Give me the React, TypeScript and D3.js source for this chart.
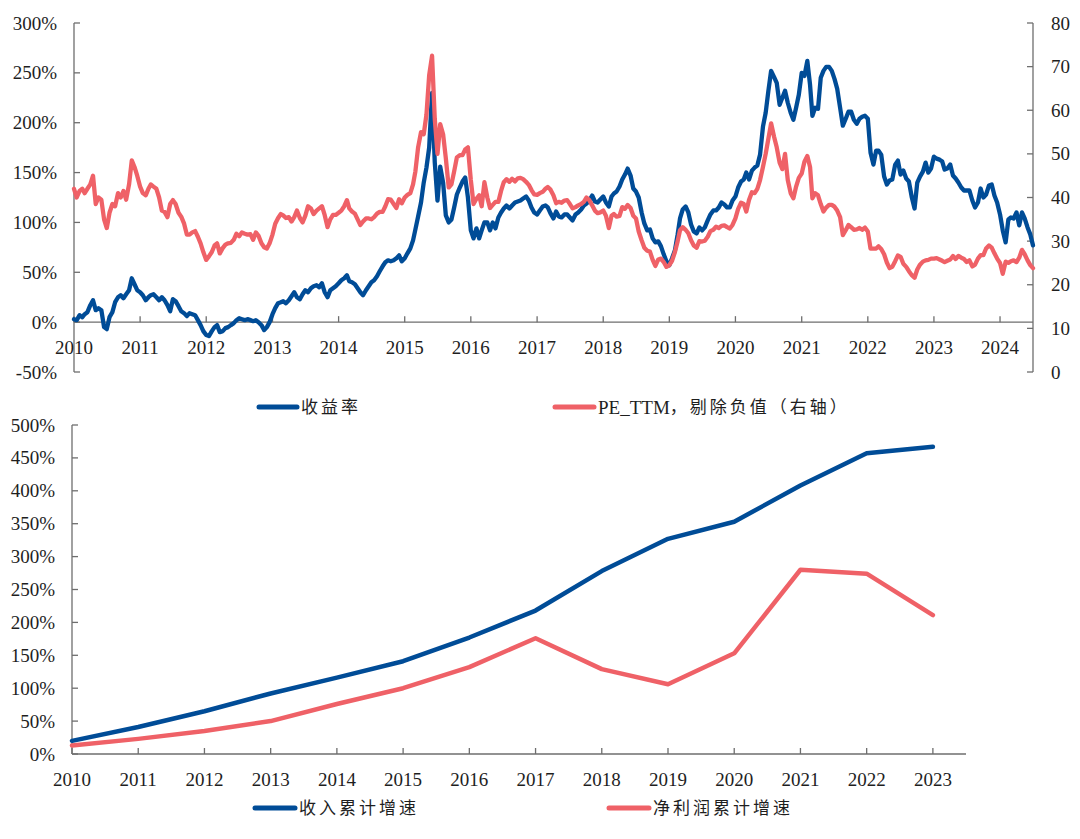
import React from "react";
import * as d3 from "d3";

// ---------- Top chart data (semi-monthly samples, 1st & 16th of each month, from 2010-01-01) ----------
const returnRate: number[] = [
  // 2010
  3, 2, 7, 5, 8, 10, 17, 22, 12, 14, 12, -5, -7, 5, 10, 20, 25, 27, 24, 28, 32, 44, 38, 32,
  // 2011
  30, 27, 22, 25, 27, 28, 25, 22, 25, 22, 17, 11, 23, 21, 16, 11, 9, 6, 9, 8, 7, 2, -3, -9,
  // 2012
  -13, -14, -9, -5, -3, -10, -9, -6, -5, -3, -1, 2, 4, 3, 2, 3, 2, 1, 2, 0, -3, -8, -5, 0,
  // 2013
  8, 14, 19, 20, 21, 19, 22, 26, 30, 25, 23, 28, 32, 30, 34, 36, 37, 35, 39, 30, 25, 32, 34, 36,
  // 2014
  39, 42, 44, 47, 41, 40, 38, 34, 30, 27, 32, 36, 40, 42, 46, 51, 56, 60, 62, 61, 62, 64, 67, 61,
  // 2015
  64, 69, 74, 82, 93, 106, 120, 140, 155, 175, 230, 160, 122, 156, 140, 107, 100, 103, 115, 128, 135, 141, 145, 125,
  // 2016
  92, 84, 94, 84, 92, 100, 100, 92, 100, 94, 105, 110, 114, 117, 114, 117, 120, 121, 122, 124, 126, 122, 115, 110,
  // 2017
  108, 112, 116, 117, 115, 109, 104, 111, 106, 105, 108, 108, 105, 102, 108, 110, 113, 117, 119, 122, 127, 121, 120, 123,
  // 2018
  126, 120, 116, 126, 129, 131, 136, 143, 148, 154, 147, 134, 131, 125, 110, 99, 92, 93, 84, 80, 81, 76, 68, 61,
  // 2019
  57, 64, 72, 88, 104, 113, 116, 110, 98, 91, 89, 95, 92, 95, 102, 108, 112, 112, 115, 120, 118, 115, 115, 122,
  // 2020
  126, 135, 141, 143, 150, 143, 152, 155, 157, 168, 196, 210, 232, 252, 246, 240, 218, 225, 232, 220, 210, 203, 215, 228,
  // 2021
  250, 247, 262, 238, 207, 215, 214, 245, 252, 256, 256, 252, 244, 234, 215, 197, 204, 211, 211, 203, 199, 204, 206, 207,
  // 2022
  204, 170, 158, 172, 172, 168, 146, 138, 142, 143, 158, 162, 148, 152, 144, 141, 125, 114, 140, 146, 151, 160, 150, 154,
  // 2023
  166, 164, 163, 161, 153, 154, 158, 147, 144, 140, 135, 132, 132, 132, 122, 115, 120, 134, 125, 128, 137, 138, 127, 120,
  // 2024
  108, 92, 80, 103, 105, 104, 110, 97, 110, 104, 95, 88, 77,
];

const peTTM: number[] = [
  // 2010
  42, 40, 41.5, 42, 41, 42, 43, 45, 38.5, 40, 39.5, 35, 33, 36.5, 38.5, 38, 41, 40, 41.5, 39.5, 43, 48.5, 47, 45,
  // 2011
  42.5, 41, 40.5, 42, 43, 42.5, 42, 40, 37, 36.7, 35.5, 38.5, 39.4, 38.5, 36.5, 35.6, 34, 31.5, 31.5, 32, 32.3, 31, 29.5, 27.5,
  // 2012
  25.7, 26.5, 27.5, 29, 29.5, 27.2, 28.4, 29.2, 29.5, 29.6, 30.3, 31.7, 31.1, 32, 31.7, 31.5, 31.6, 30.3, 32, 31.2, 29.5, 28.6, 28.3, 29.5,
  // 2013
  31.5, 34, 35.3, 36.2, 35.9, 35.3, 35.5, 34.5, 35.5, 37, 35.3, 34.3, 35.8, 38, 37.5, 36.2, 37, 37.5, 38, 36, 33.2, 35, 36, 36,
  // 2014
  36.5, 37, 38, 39.4, 37.5, 36.8, 36.3, 35, 33.7, 34.5, 35.2, 35.2, 35, 35.5, 36.3, 36.7, 36.7, 38, 39.6, 39.5, 38.5, 37.6, 39.6, 38.7,
  // 2015
  40, 40.6, 41, 43, 46, 51.5, 55, 54.5, 59, 68, 72.5, 58, 50, 56.8, 54.5, 49, 42.3, 43, 46, 49.2, 49.7, 49.7, 51, 51.5,
  // 2016
  44, 38.5, 39.7, 40.5, 38, 43.5, 40, 37.6, 38.3, 39, 39, 41.5, 43.5, 44.2, 43.6, 44.3, 43.7, 44.4, 44.5, 44.2, 43.6, 42.9, 41.7, 40.7,
  // 2017
  40.6, 41, 41.3, 42, 42.4, 41.8, 40.5, 38.7, 39, 38.8, 39.3, 39.4, 38.5, 37.5, 37.8, 38.2, 38.5, 39, 40, 39.4, 38.2, 37, 36.4, 36.6,
  // 2018
  37, 35.8, 33, 35.8, 36.2, 35.6, 35.8, 37.8, 37.4, 38.3, 37.6, 35.8, 35.2, 32.2, 30.2, 28.5, 27.8, 27.6, 25.7, 24.3, 25.8, 26, 25.2, 24.1,
  // 2019
  24.5, 25.5, 27.5, 30, 32.5, 33.2, 32.6, 31.8, 30.2, 29, 28.5, 30, 29.9, 30.1, 31, 32.3, 32.6, 33.3, 33, 33.5, 33.6, 33.2, 32.9, 33.7,
  // 2020
  35.2, 37.4, 38.8, 38.5, 36.8, 39.4, 41.2, 41, 42, 44, 47, 50, 53.5, 57, 54, 51.5, 48, 46.5, 50, 44, 41, 39.8, 42.5, 44.5,
  // 2021
  45.5, 48.2, 49.5, 47, 39.8, 41, 40.5, 38.5, 36.8, 37.7, 38.3, 38.3, 37.9, 37, 35.5, 31.4, 32.5, 33.7, 33.2, 32.6, 32.7, 33, 32.6, 33.1,
  // 2022
  32.2, 28.3, 28.3, 28.3, 28.8, 28.2, 27, 25.1, 23.8, 24.1, 25.4, 26.7, 26.4, 24.8, 24.1, 23.1, 22.2, 21.6, 23.5, 24.6, 25.3, 25.6, 25.7, 26,
  // 2023
  26, 26.1, 25.8, 25.5, 25.2, 25.5, 25.8, 26.6, 25.9, 26.6, 26.2, 25.9, 25.2, 25.6, 24.2, 24.6, 26, 26.8, 26.8, 28.3, 29, 28.5, 27.2, 26,
  // 2024
  25, 22.5, 25.3, 25, 25.4, 25.6, 25.2, 26.2, 28, 27, 25.6, 24.5, 23.8,
];

const topYears = [2010, 2011, 2012, 2013, 2014, 2015, 2016, 2017, 2018, 2019, 2020, 2021, 2022, 2023, 2024];
const leftTicks = [-50, 0, 50, 100, 150, 200, 250, 300];
const rightTicks = [0, 10, 20, 30, 40, 50, 60, 70, 80];

// ---------- Bottom chart data ----------
const years = [2010, 2011, 2012, 2013, 2014, 2015, 2016, 2017, 2018, 2019, 2020, 2021, 2022, 2023];
const revenueGrowth = [20, 41, 65, 92, 116, 141, 177, 218, 278, 327, 353, 408, 457, 467];
const profitGrowth = [13, 23, 35, 50, 76, 100, 132, 176, 129, 106, 153, 280, 274, 211];
const bottomTicks = [0, 50, 100, 150, 200, 250, 300, 350, 400, 450, 500];

const BLUE = "#004C97";
const RED = "#EF6167";
const AXIS = "#6e6e6e";
const TXT = "#1e1e1e";
const LATIN = "'Liberation Serif', 'Times New Roman', serif";
const MIXED = "'Liberation Serif', 'Noto Sans CJK SC', serif";

function sampleDate(i: number): Date {
  const y = 2010 + Math.floor(i / 24);
  const m = Math.floor((i % 24) / 2);
  return new Date(y, m, i % 2 ? 16 : 1);
}

export default function App() {
  // ---- top scales ----
  const xT = d3.scaleTime().domain([new Date(2010, 0, 1), new Date(2024, 6, 1)]).range([74, 1033]);
  const yL = d3.scaleLinear().domain([-50, 300]).range([372, 23]);
  const yR = d3.scaleLinear().domain([0, 80]).range([372, 23]);
  const y0 = yL(0);

  const lineRet = d3
    .line<number>()
    .x((_, i) => xT(sampleDate(i)))
    .y((d) => yL(d));
  const linePE = d3
    .line<number>()
    .x((_, i) => xT(sampleDate(i)))
    .y((d) => yR(d));

  // ---- bottom scales ----
  const xB = d3.scaleLinear().domain([2010, 2023.5]).range([72, 966]);
  const yB = d3.scaleLinear().domain([0, 500]).range([754, 425]);
  const lineB = d3
    .line<number>()
    .x((_, i) => xB(years[i]))
    .y((d) => yB(d));

  const fs = 19;

  return (
    <svg
      width={1080}
      height={839}
      viewBox="0 0 1080 839"
      style={{ position: "absolute", left: 0, top: 0, background: "#fff" }}
    >
      <rect width={1080} height={839} fill="#fff" />

      {/* ================= TOP CHART ================= */}
      <g>
        {/* left axis */}
        <line x1={74} x2={74} y1={yL(300)} y2={yL(-50)} stroke={AXIS} strokeWidth={1.3} />
        {leftTicks.map((t) => (
          <g key={"l" + t}>
            <line x1={74} x2={80} y1={yL(t)} y2={yL(t)} stroke={AXIS} strokeWidth={1.3} />
            <text x={57} y={yL(t)} textAnchor="end" dominantBaseline="central" fontFamily={LATIN} fontSize={fs} fill={TXT}>
              {t + "%"}
            </text>
          </g>
        ))}
        {/* right axis */}
        <line x1={1033} x2={1033} y1={yR(80)} y2={yR(0)} stroke={AXIS} strokeWidth={1.3} />
        {rightTicks.map((t) => (
          <g key={"r" + t}>
            <line x1={1027} x2={1033} y1={yR(t)} y2={yR(t)} stroke={AXIS} strokeWidth={1.3} />
            <text x={1051} y={yR(t)} textAnchor="start" dominantBaseline="central" fontFamily={LATIN} fontSize={fs} fill={TXT}>
              {t}
            </text>
          </g>
        ))}
        {/* x axis at 0% */}
        <line x1={74} x2={1033} y1={y0} y2={y0} stroke={AXIS} strokeWidth={1.3} />
        {topYears.map((yr) => {
          const x = xT(new Date(yr, 0, 1));
          return (
            <g key={"tx" + yr}>
              <line x1={x} x2={x} y1={y0 - 6} y2={y0} stroke={AXIS} strokeWidth={1.3} />
              <text x={x} y={y0 + 25} textAnchor="middle" dominantBaseline="central" fontFamily={LATIN} fontSize={fs} fill={TXT}>
                {yr}
              </text>
            </g>
          );
        })}
        {/* series */}
        <path d={lineRet(returnRate) || ""} fill="none" stroke={BLUE} strokeWidth={4.3} strokeLinejoin="round" strokeLinecap="round" />
        <path d={linePE(peTTM) || ""} fill="none" stroke={RED} strokeWidth={4.3} strokeLinejoin="round" strokeLinecap="round" />

        {/* legend */}
        <line x1={259} x2={297} y1={407} y2={407} stroke={BLUE} strokeWidth={5} strokeLinecap="round" />
        <text x={301} y={407} dominantBaseline="central" fontFamily={MIXED} fontSize={17} letterSpacing={3} fill={TXT}>
          收益率
        </text>
        <line x1={555} x2={594} y1={407} y2={407} stroke={RED} strokeWidth={5} strokeLinecap="round" />
        <text x={598} y={407} dominantBaseline="central" fontFamily={MIXED} fontSize={18} fill={TXT}>
          <tspan fontSize={19}>PE_TTM</tspan>
          <tspan letterSpacing={3} fontSize={17}>，剔除负值（右轴）</tspan>
        </text>
      </g>

      {/* ================= BOTTOM CHART ================= */}
      <g>
        <line x1={72} x2={72} y1={yB(500)} y2={yB(0)} stroke={AXIS} strokeWidth={1.3} />
        {bottomTicks.map((t) => (
          <g key={"b" + t}>
            <line x1={72} x2={78} y1={yB(t)} y2={yB(t)} stroke={AXIS} strokeWidth={1.3} />
            <text x={55} y={yB(t)} textAnchor="end" dominantBaseline="central" fontFamily={LATIN} fontSize={fs} fill={TXT}>
              {t + "%"}
            </text>
          </g>
        ))}
        <line x1={72} x2={966} y1={yB(0)} y2={yB(0)} stroke={AXIS} strokeWidth={1.3} />
        {years.map((yr) => (
          <g key={"bx" + yr}>
            <line x1={xB(yr)} x2={xB(yr)} y1={yB(0) - 6} y2={yB(0)} stroke={AXIS} strokeWidth={1.3} />
            <text x={xB(yr)} y={yB(0) + 25} textAnchor="middle" dominantBaseline="central" fontFamily={LATIN} fontSize={fs} fill={TXT}>
              {yr}
            </text>
          </g>
        ))}
        <path d={lineB(revenueGrowth) || ""} fill="none" stroke={BLUE} strokeWidth={4.5} strokeLinejoin="round" strokeLinecap="round" />
        <path d={lineB(profitGrowth) || ""} fill="none" stroke={RED} strokeWidth={4.5} strokeLinejoin="round" strokeLinecap="round" />

        {/* legend */}
        <line x1={255} x2={295} y1={808} y2={808} stroke={BLUE} strokeWidth={5} strokeLinecap="round" />
        <text x={299} y={808} dominantBaseline="central" fontFamily={MIXED} fontSize={17} letterSpacing={3} fill={TXT}>
          收入累计增速
        </text>
        <line x1={609} x2={649} y1={808} y2={808} stroke={RED} strokeWidth={5} strokeLinecap="round" />
        <text x={653} y={808} dominantBaseline="central" fontFamily={MIXED} fontSize={17} letterSpacing={3} fill={TXT}>
          净利润累计增速
        </text>
      </g>
    </svg>
  );
}
